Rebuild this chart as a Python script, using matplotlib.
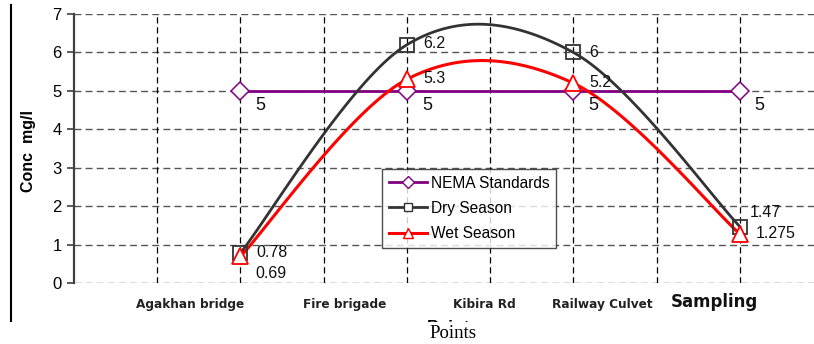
import numpy as np
import matplotlib
matplotlib.use("Agg")
import matplotlib.pyplot as plt
from matplotlib.patches import Rectangle
from matplotlib.lines import Line2D

plt.rcParams['font.family'] = ['Liberation Sans', 'DejaVu Sans']

# ---- data ----
categories = ["Agakhan bridge", "Fire brigade", "Kibira Rd", "Railway Culvet"]
x_pos = [2, 4, 6, 8]
nema = [5, 5, 5, 5]
dry = [0.78, 6.2, 6, 1.47]
wet = [0.69, 5.3, 5.2, 1.275]
dry_labels = ["0.78", "6.2", "6", "1.47"]
wet_labels = ["0.69", "5.3", "5.2", "1.275"]
nema_labels = ["5", "5", "5", "5"]
yticks = [0, 1, 2, 3, 4, 5, 6, 7]

W, H = 814, 344
fig = plt.figure(figsize=(W / 100, H / 100), dpi=100)

def fx(px):
    return px / W

def fy(py):
    return 1 - py / H

ax = fig.add_axes([fx(74), fy(283), (823 - 74) / W, (283 - 14) / H])
ax.set_xlim(0, 9)
ax.set_ylim(0, 7)


def smooth(xs, ys, n=40):
    """Excel-style (Catmull-Rom Bezier) smoothing through the points."""
    P = np.column_stack([xs, ys]).astype(float)
    out = [P[0]]
    k = len(P)
    for i in range(k - 1):
        p0 = P[i - 1] if i > 0 else P[i]
        p1 = P[i]
        p2 = P[i + 1]
        p3 = P[i + 2] if i + 2 < k else P[i + 1]
        c1 = p1 + (p2 - p0) / 6
        c2 = p2 - (p3 - p1) / 6
        t = np.linspace(0, 1, n)[1:, None]
        seg = ((1 - t) ** 3) * p1 + 3 * ((1 - t) ** 2) * t * c1 + 3 * (1 - t) * t ** 2 * c2 + t ** 3 * p2
        out.extend(seg)
    out = np.array(out)
    return out[:, 0], out[:, 1]


# grid
for yv in yticks:
    ax.axhline(yv, color='#555555', lw=1.0, ls=(0, (5, 3)), zorder=1)
for xv in range(1, 10):
    ax.axvline(xv, color='black', lw=0.9, ls=(0, (5, 3)), zorder=1)

for s in ['top', 'right', 'bottom']:
    ax.spines[s].set_visible(False)
ax.spines['left'].set_color('#404040')
ax.spines['left'].set_linewidth(1.6)
ax.spines['left'].set_zorder(3)

ax.set_xticks([])
ax.set_yticks(yticks)
ax.tick_params(axis='y', length=5, width=1.2, color='#404040', labelsize=12, pad=4)

nema_c = '#800080'
dry_c = '#333333'
wet_c = '#ff0000'

ax.plot(x_pos, nema, color=nema_c, lw=2.0, zorder=4)
ax.plot(x_pos, nema, ls='none', marker='D', ms=9, mfc='white', mec=nema_c, mew=1.1, zorder=5)

sx, sy = smooth(x_pos, dry)
ax.plot(sx, sy, color=dry_c, lw=2.0, zorder=4)
ax.plot(x_pos, dry, ls='none', marker='s', ms=9.5, mfc='none', mec=dry_c, mew=1.3, zorder=6)

sx, sy = smooth(x_pos, wet)
ax.plot(sx, sy, color=wet_c, lw=2.2, zorder=5)
ax.plot(x_pos, wet, ls='none', marker='^', ms=12, mfc='white', mec=wet_c, mew=1.3, zorder=7)

# data labels (offsets in pixels)
lab_kw = dict(textcoords='offset pixels', fontsize=11.5, color='#111111', va='center', ha='left', zorder=8)
for x, y, t in zip(x_pos, nema, nema_labels):
    ax.annotate(t, (x, y), xytext=(15, -15), **{**lab_kw, 'fontsize': 13})
dry_off = [(16, 1), (16, 1), (16, 0), (10, 14)]
for (x, y, t), o in zip(zip(x_pos, dry, dry_labels), dry_off):
    ax.annotate(t, (x, y), xytext=o, **lab_kw)
wet_off = [(15, -17), (16, 1), (16, 1), (16, 1)]
for (x, y, t), o in zip(zip(x_pos, wet, wet_labels), wet_off):
    ax.annotate(t, (x, y), xytext=o, **lab_kw)

# legend
handles = [
    Line2D([], [], color=nema_c, lw=2.0, marker='D', ms=6, mfc='white', mec=nema_c),
    Line2D([], [], color=dry_c, lw=2.0, marker='s', ms=6, mfc='white', mec=dry_c),
    Line2D([], [], color=wet_c, lw=2.2, marker='^', ms=7, mfc='white', mec=wet_c),
]
leg = ax.legend(handles, ["NEMA Standards", "Dry Season", "Wet Season"],
                loc='upper left', bbox_to_anchor=(fx(382), fy(169)),
                bbox_transform=fig.transFigure, fontsize=11.2, frameon=True,
                fancybox=False, edgecolor='#222222', borderpad=0.42,
                handlelength=2.5, handletextpad=0.25, labelspacing=0.66,
                borderaxespad=0)
leg.get_frame().set_linewidth(1.0)
leg.set_zorder(10)

# category labels
cat_x = [1.4, 3.25, 4.93, 6.35]
for cx, c in zip(cat_x, categories):
    ax.text(cx, -0.57, c, ha='center', va='center', fontsize=8.7, fontweight='bold',
            color='#222222', family=['DejaVu Sans'])
ax.text(7.7, -0.5, "Sampling", ha='center', va='center', fontsize=12, fontweight='bold',
        color='#111111', family=['DejaVu Sans'])

# y label
fig.text(fx(28), fy(151), "Conc  mg/l", rotation=90, ha='center', va='center',
         fontsize=11.5, fontweight='bold')

# partly hidden bold axis title and serif overlay
fig.text(fx(453), fy(327), "Points", ha='center', va='center', fontsize=12.5,
         fontweight='bold', zorder=1)
fig.patches.append(Rectangle((fx(395), 0), fx(120), fy(322), transform=fig.transFigure,
                             facecolor='white', edgecolor='none', zorder=2))
fig.text(fx(453), fy(334), "Points", ha='center', va='center', fontsize=13.5,
         family=['Liberation Serif', 'DejaVu Serif'], zorder=3)

# left border line
fig.add_artist(Line2D([fx(11), fx(11)], [fy(5), fy(321)], color='black', lw=1.5,
                      transform=fig.transFigure))

fig.savefig("out.png", dpi=100)
